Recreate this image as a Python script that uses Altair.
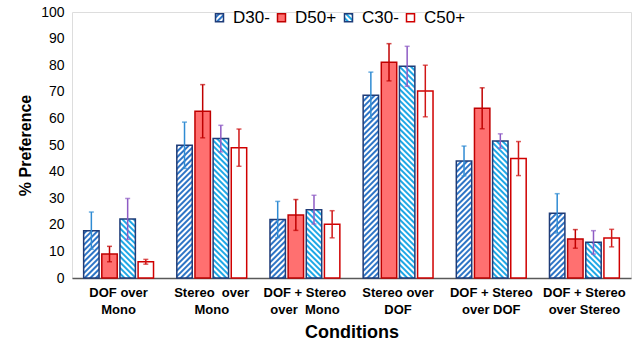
import altair as alt
import pandas as pd
import jinja2

# ---- data -------------------------------------------------------------
NB = "\u00a0"
conditions = ["DOF over|Mono", "Stereo" + NB + " over|Mono", "DOF + Stereo|over" + NB + " Mono",
              "Stereo over|DOF", "DOF + Stereo|over DOF", "DOF + Stereo|over Stereo"]
series = ["D30-", "D50+", "C30-", "C50+"]

d30_vals = [17.8, 49.9, 22.0, 68.7, 44.0, 24.3]
d50_vals = [9.0, 62.7, 23.7, 81.1, 63.8, 14.7]
c30_vals = [22.2, 52.4, 25.7, 79.6, 51.5, 13.4]
c50_vals = [6.1, 49.0, 20.2, 70.3, 44.9, 15.0]

d30_err = [7.0, 8.7, 6.8, 8.7, 5.6, 7.4]
d50_err = [2.9, 10.0, 5.8, 7.0, 7.7, 3.5]
c30_err = [7.7, 5.0, 5.4, 7.5, 2.7, 4.4]
c50_err = [0.9, 7.0, 5.1, 9.7, 6.4, 3.3]

y_ticks = list(range(0, 101, 10))

rows = []
for s, vals, errs in [("D30-", d30_vals, d30_err), ("D50+", d50_vals, d50_err),
                      ("C30-", c30_vals, c30_err), ("C50+", c50_vals, c50_err)]:
    for c, v, e in zip(conditions, vals, errs):
        rows.append({"cond": c, "series": s, "value": v, "lo": v - e, "hi": v + e})
df = pd.DataFrame(rows)

fills = ["url(#hatchD)", "#FF7070", "url(#hatchC)", "#FFFFFF"]
strokes = ["#1F3C78", "#C00000", "#1F3C78", "#D00000"]
err_colors = ["#2F8BD3", "#C00000", "#8E5BC4", "#D01515"]

x_axis = alt.Axis(title="Conditions", labelExpr="split(datum.label, '|')",
                  labelAngle=0, labelFont="Liberation Sans", labelFontSize=13,
                  labelFontWeight="bold", labelColor="black", labelLineHeight=17,
                  labelPadding=8, ticks=False, domainColor="#595959",
                  domainWidth=1.5, titleFont="Liberation Sans", titleFontSize=18,
                  titleFontWeight="bold", titleColor="black", titlePadding=7,
                  grid=False)
x_scale = alt.Scale(paddingInner=0.25, paddingOuter=0.125)
y_axis = alt.Axis(title="% Preference", values=y_ticks, tickCount=len(y_ticks),
                  labelOverlap=False, grid=False, domain=False,
                  ticks=False, labelFont="Liberation Sans", labelFontSize=14,
                  labelColor="black", labelPadding=8, minExtent=33, maxExtent=33,
                  titleFont="Liberation Sans", titleFontSize=16,
                  titleFontWeight="bold", titleColor="black", titlePadding=6)
y_scale = alt.Scale(domain=[0, 100], nice=False)


def xe():
    return alt.X("cond:N", sort=conditions, scale=x_scale, axis=x_axis)


def ye(field):
    return alt.Y(field + ":Q", scale=y_scale, axis=y_axis)


xo_enc = alt.XOffset("series:N", sort=series,
                     scale=alt.Scale(paddingInner=0.15, paddingOuter=0))

bars = alt.Chart(df).mark_bar(strokeWidth=1.5).encode(
    x=xe(),
    xOffset=xo_enc,
    y=ye("value"),
    fill=alt.Fill("series:N", sort=series,
                  scale=alt.Scale(domain=series, range=fills),
                  legend=alt.Legend(title=None, orient="none", direction="horizontal",
                                    legendX=139, legendY=-3, symbolType="square",
                                    symbolSize=64, symbolStrokeWidth=1.5,
                                    labelFont="Liberation Sans", labelFontSize=17,
                                    labelColor="black", labelOffset=5, columnPadding=3,
                                    padding=0)),
    stroke=alt.Stroke("series:N", sort=series,
                      scale=alt.Scale(domain=series, range=strokes), legend=None),
)

err_color = alt.Color("series:N", scale=alt.Scale(domain=series, range=err_colors), legend=None)

rules = alt.Chart(df).mark_rule(strokeWidth=1.5).encode(
    x=xe(), xOffset=xo_enc, y=ye("lo"), y2="hi:Q", color=err_color,
)
caps_hi = alt.Chart(df).mark_tick(orient="horizontal", size=5, thickness=1.5).encode(
    x=xe(), xOffset=xo_enc, y=ye("hi"), color=err_color,
)
caps_lo = alt.Chart(df).mark_tick(orient="horizontal", size=5, thickness=1.5).encode(
    x=xe(), xOffset=xo_enc, y=ye("lo"), color=err_color,
)

chart = alt.layer(bars, rules, caps_hi, caps_lo).properties(
    width=559, height=266,
    padding={"left": 17, "top": 5, "right": 5, "bottom": 5},
).configure_view(stroke=None).configure(background="white")

TEMPLATE = jinja2.Template("""<!DOCTYPE html>
<html>
<head>
  <style>
    body { margin: 0; }
    #{{ output_div }}.vega-embed { width: 100%; display: flex; }
  </style>
  <script type="text/javascript" src="{{ base_url }}/vega@{{ vega_version }}"></script>
  <script type="text/javascript" src="{{ base_url }}/vega-lite@{{ vegalite_version }}"></script>
  <script type="text/javascript" src="{{ base_url }}/vega-embed@{{ vegaembed_version }}"></script>
</head>
<body>
  <svg width="0" height="0" style="position:absolute">
    <defs>
      <pattern id="hatchD" patternUnits="userSpaceOnUse" width="4" height="4" patternTransform="rotate(45)">
        <rect width="4" height="4" fill="#FFFFFF"/>
        <rect width="2" height="4" fill="#2E75C6"/>
      </pattern>
      <pattern id="hatchC" patternUnits="userSpaceOnUse" width="4" height="4" patternTransform="rotate(-45)">
        <rect width="4" height="4" fill="#FFFFFF"/>
        <rect width="2" height="4" fill="#1FA8E6"/>
      </pattern>
    </defs>
  </svg>
  <div id="{{ output_div }}"></div>
  <script>
    (function(vegaEmbed) {
      var spec = {{ spec }};
      var embedOpt = {{ embed_options }};
      vegaEmbed("#{{ output_div }}", spec, embedOpt).catch(function(e){ console.error(e); });
    })(vegaEmbed);
  </script>
</body>
</html>
""")

chart.save("out.html", embed_options={"renderer": "svg", "actions": False}, template=TEMPLATE)
